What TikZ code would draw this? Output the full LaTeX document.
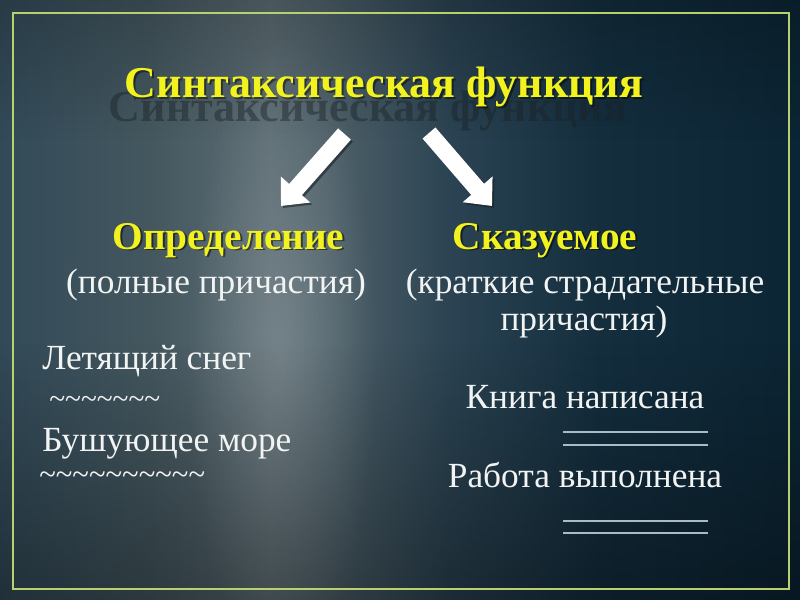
\documentclass[tikz,border=0pt]{standalone}
\usepackage{fontspec}
\setmainfont{Liberation Serif}
\usetikzlibrary{arrows.meta,fadings}
\definecolor{bg0}{HTML}{324A58}
\definecolor{bg1}{HTML}{44575F}
\definecolor{bg2}{HTML}{5C6C73}
\definecolor{bg3}{HTML}{4E6069}
\definecolor{bg4}{HTML}{2B4352}
\definecolor{bg5}{HTML}{142E3E}
\definecolor{bg6}{HTML}{0C2534}
\definecolor{glowc}{HTML}{9AA6AA}
\definecolor{ylw}{HTML}{F2F21E}
\definecolor{txtw}{HTML}{F2F4F4}
\definecolor{ulc}{HTML}{A8BCC8}
\definecolor{bordc}{HTML}{B8D070}
\definecolor{shd}{HTML}{1A2226}
\pgfdeclarehorizontalshading{bgshade}{100bp}{color(0bp)=(bg0); color(25bp)=(bg0); color(34.4bp)=(bg1); color(41.9bp)=(bg2); color(45.6bp)=(bg3); color(53.1bp)=(bg4); color(62.5bp)=(bg5); color(75bp)=(bg6); color(100bp)=(bg6)}
\tikzfading[name=glowfade, inner color=transparent!0, outer color=transparent!100]
\tikzset{
  ttl/.style={font=\fontsize{33}{36}\selectfont\bfseries, inner sep=0pt},
  head/.style={font=\fontsize{29.5}{32}\selectfont\bfseries, text=ylw, inner sep=0pt},
  headshadow/.style={font=\fontsize{29.5}{32}\selectfont\bfseries, text=black, opacity=.5, inner sep=0pt},
  body/.style={font=\fontsize{26.5}{30}\selectfont, text=txtw, inner sep=0pt},
  wave/.style={font=\fontsize{22}{24}\selectfont, text=txtw, inner sep=0pt},
  blockarrow/.style={white, line width=12.75pt, -{Triangle[width=28.5pt,length=16.5pt]}},
  blockshadow/.style={shd, opacity=.6, line width=12.75pt, -{Triangle[width=28.5pt,length=16.5pt]}},
  uline/.style={ulc, line width=1.1pt},
}
\begin{document}
\begin{tikzpicture}[x=0.75pt,y=-0.75pt]
\useasboundingbox (0,0) rectangle (800,600);
% background
\shade[shading=bgshade] (0,0) rectangle (800,600);
\fill[glowc, opacity=.42, path fading=glowfade, fit fading=true] (282,360) ellipse [x radius=95, y radius=330];
\fill[black, opacity=.35, path fading=north] (0,340) rectangle (800,600);
\fill[black, opacity=.2, path fading=south] (0,0) rectangle (800,140);
\draw[bordc, line width=1.5pt] (13,13) rectangle (789,589);
% title
\node[ttl, text=shd, opacity=.45, anchor=base] (tshadow) at (368,121) {Синтаксическая функция};
\node[ttl, text=black, opacity=.45, anchor=base] (title0) at (386,99) {Синтаксическая функция};
\node[ttl, text=ylw, anchor=base] (title) at (384,97) {Синтаксическая функция};
% arrows
\coordinate (la1) at (344.5,134);
\coordinate (la2) at (281,206);
\coordinate (ra1) at (429,133);
\coordinate (ra2) at (492,206);
\draw[blockshadow] ([shift={(2,2)}]la1) -- ([shift={(2,2)}]la2);
\draw[blockshadow] ([shift={(2,2)}]ra1) -- ([shift={(2,2)}]ra2);
\draw[blockarrow] (la1) -- (la2);
\draw[blockarrow] (ra1) -- (ra2);
% headings
\node[headshadow, anchor=base] (def0) at (230.5,250.5) {Определение};
\node[head, anchor=base] (def) at (228.5,249) {Определение};
\node[headshadow, anchor=base] (sk0) at (547,250.5) {Сказуемое};
\node[head, anchor=base] (sk) at (545,249) {Сказуемое};
\node[body, anchor=base] (defp) at (216,293) {(полные причастия)};
\node[body, anchor=base] (skp1) at (585,293) {(краткие страдательные};
\node[body, anchor=base] (skp2) at (584,330) {причастия)};
% examples
\node[body, anchor=base west] (ex1) at (42,369) {Летящий снег};
\node[wave, anchor=west] (w1) at (49,402) {\textasciitilde\textasciitilde\textasciitilde\textasciitilde\textasciitilde\textasciitilde\textasciitilde};
\node[body, anchor=base west] (ex2) at (42,451) {Бушующее море};
\node[wave, font=\fontsize{23}{24}\selectfont, anchor=west] (w2) at (39,478) {\textasciitilde\textasciitilde\textasciitilde\textasciitilde\textasciitilde\textasciitilde\textasciitilde\textasciitilde\textasciitilde\textasciitilde};
\node[body, anchor=base] (ex3) at (585,408) {Книга написана};
\node[body, anchor=base] (ex4) at (585,487) {Работа выполнена};
% double underlines
\draw[uline] (563,432) -- (708,432);
\draw[uline] (563,445) -- (708,445);
\draw[uline] (563,521) -- (708,521);
\draw[uline] (563,533) -- (708,533);
\end{tikzpicture}
\end{document}
